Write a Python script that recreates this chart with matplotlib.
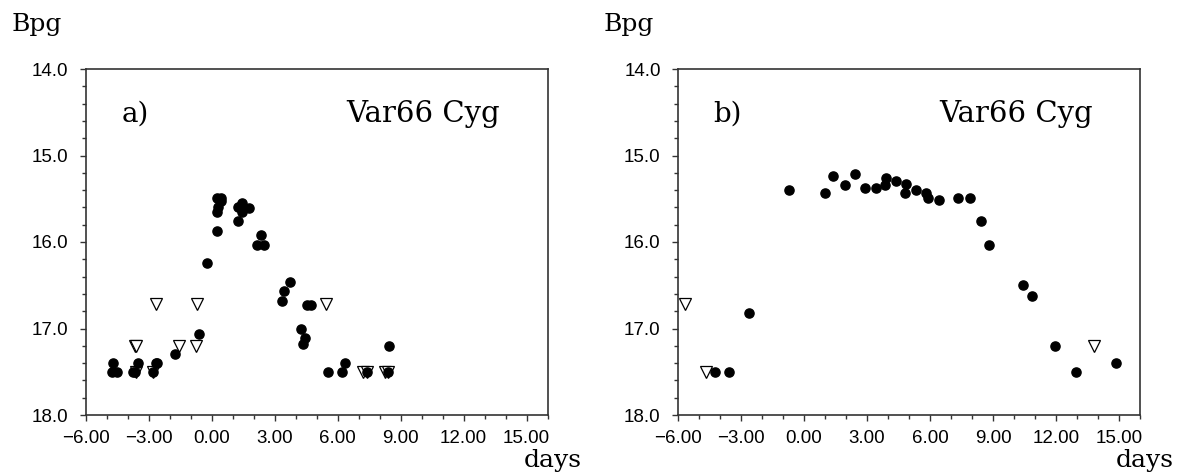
import numpy as np
import matplotlib
matplotlib.use('Agg')
import matplotlib.pyplot as plt
from matplotlib.ticker import MultipleLocator, FuncFormatter

# panel a) - detections (filled circles)
a_days = [-4.72, -4.67, -4.51, -3.72, -3.62, -3.51, -2.77, -2.64, -2.58, -1.75,
          -0.58, -0.22, 0.28, 0.27, 0.30, 0.28, 0.45, 0.45, 1.25, 1.25,
          1.43, 1.43, 1.80, 2.16, 2.38, 2.49, 3.35, 3.43, 3.75, 4.26,
          4.37, 4.46, 4.54, 4.75, 5.54, 6.23, 6.38, 7.40, 8.39, 8.43]
a_mag = [17.50, 17.40, 17.50, 17.50, 17.50, 17.40, 17.50, 17.40, 17.40, 17.30,
         17.06, 16.24, 15.87, 15.65, 15.59, 15.49, 15.49, 15.53, 15.76, 15.59,
         15.55, 15.65, 15.61, 16.03, 15.92, 16.03, 16.68, 16.57, 16.46, 17.01,
         17.18, 17.11, 16.73, 16.73, 17.50, 17.50, 17.40, 17.50, 17.50, 17.20]
# panel a) - upper limits (open triangles)
a_lim_days = [-3.66, -3.58, -3.60, -2.80, -2.63, -1.55, -0.76, -0.69, 5.43,
              7.22, 7.40, 8.25, 8.40]
a_lim_mag = [17.20, 17.20, 17.50, 17.50, 16.72, 17.20, 17.20, 16.72, 16.72,
             17.50, 17.50, 17.50, 17.50]

# panel b)
b_days = [-4.25, -3.58, -2.63, -0.71, 0.99, 1.39, 1.97, 2.44, 2.91, 3.41,
          3.86, 3.90, 4.39, 4.84, 4.81, 5.32, 5.81, 5.90, 6.43, 7.33,
          7.90, 8.41, 8.81, 10.43, 10.86, 11.94, 12.96, 14.85]
b_mag = [17.50, 17.50, 16.82, 15.40, 15.43, 15.24, 15.34, 15.21, 15.37, 15.37,
         15.34, 15.26, 15.29, 15.33, 15.43, 15.40, 15.43, 15.49, 15.52, 15.49,
         15.49, 15.76, 16.03, 16.50, 16.62, 17.20, 17.50, 17.40]
b_lim_days = [-5.67, -4.65, 13.81]
b_lim_mag = [16.72, 17.50, 17.20]

panels = [
    ('a)', a_days, a_mag, a_lim_days, a_lim_mag),
    ('b)', b_days, b_mag, b_lim_days, b_lim_mag),
]


def fmt_x(v, pos):
    return ('%.2f' % v).replace('-', '\u2212')


def fmt_y(v, pos):
    return '%.1f' % v


W, H = 1188, 475
fig = plt.figure(figsize=(W / 100, H / 100), dpi=100)
lefts = [85.5, 678]

for (tag, d, m, ld, lm), left in zip(panels, lefts):
    ax = fig.add_axes([left / W, (H - 415) / H, 462 / W, 346 / H])
    ax.plot(ld, lm, 'v', ms=8, mfc='white', mec='black', mew=0.9, ls='none', zorder=3)
    ax.plot(d, m, 'o', ms=6.6, color='black', ls='none', zorder=4)
    ax.set_xlim(-6, 16)
    ax.set_ylim(18, 14)
    ax.xaxis.set_major_locator(MultipleLocator(3))
    ax.xaxis.set_minor_locator(MultipleLocator(1))
    ax.yaxis.set_major_locator(MultipleLocator(1))
    ax.yaxis.set_minor_locator(MultipleLocator(0.2))
    ax.xaxis.set_major_formatter(FuncFormatter(fmt_x))
    ax.yaxis.set_major_formatter(FuncFormatter(fmt_y))
    ax.tick_params(which='both', direction='out', width=1.0, color='#333333',
                   top=False, right=False)
    ax.tick_params(which='major', length=4.5, labelsize=13.5)
    ax.tick_params(which='minor', length=3.2)
    ax.tick_params(axis='x', which='major', pad=6)
    ax.tick_params(axis='y', which='major', pad=8)
    for lab in ax.get_xticklabels() + ax.get_yticklabels():
        lab.set_family('Liberation Sans')
    for sp in ax.spines.values():
        sp.set_linewidth(1.2)
        sp.set_color('#333333')
    ax.text(-4.3, 14.52, tag, fontsize=20, family='DejaVu Serif', va='center', ha='left')
    ax.text(13.75, 14.52, 'Var66 Cyg', fontsize=21, family='DejaVu Serif',
            va='center', ha='right')
    # axis titles placed like the original figure
    fig.text((left - 74) / W, 1 - 24 / H, 'Bpg', fontsize=18, family='DejaVu Serif',
             va='center', ha='left')
    fig.text((left + 462 + 5) / W, 1 - 461 / H, 'days', fontsize=18,
             family='DejaVu Serif', va='center', ha='center')

fig.savefig('out.png', dpi=100)
